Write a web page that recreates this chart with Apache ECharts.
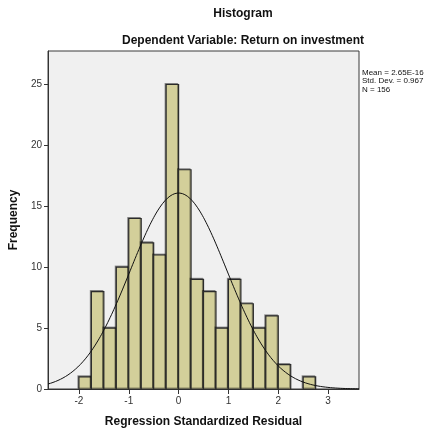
<!DOCTYPE html>
<html>
<head>
<meta charset="utf-8">
<script src="https://cdn.jsdelivr.net/npm/echarts@6/dist/echarts.min.js"></script>
<style>
  html, body { margin: 0; padding: 0; background: #ffffff; }
  #chart { width: 430px; height: 434px; }
</style>
</head>
<body>
<div id="chart"></div>
<script>
// Bin lower edges (width 0.25) and counts of standardized residuals
const binStarts = [-2.0, -1.75, -1.5, -1.25, -1.0, -0.75, -0.5, -0.25, 0.0, 0.25,
                   0.5, 0.75, 1.0, 1.25, 1.5, 1.75, 2.0, 2.25, 2.5];
const binWidth = 0.25;
const counts = [1, 8, 5, 10, 14, 12, 11, 25, 18, 9,
                8, 5, 9, 7, 5, 6, 2, 0, 1];

// Summary statistics shown beside the plot
const statMean = 2.65e-16;
const statSd = 0.967;
const statN = 156;
const statLines = ['Mean = 2.65E-16', 'Std. Dev. = 0.967', 'N = 156'];

const xTicks = [-2, -1, 0, 1, 2, 3];
const yTicks = [0, 5, 10, 15, 20, 25];
const xMin = -2.62, xMax = 3.62;
const yMax = 27.75;

// Normal density scaled to counts per bin
const curve = [];
const steps = 250;
for (let i = 0; i <= steps; i++) {
  const x = xMin + (xMax - xMin) * i / steps;
  const z = (x - statMean) / statSd;
  const y = statN * binWidth * Math.exp(-0.5 * z * z) / (statSd * Math.sqrt(2 * Math.PI));
  curve.push([x, y]);
}

const barData = binStarts.map((s, i) => [s, s + binWidth, counts[i]]).filter(d => d[2] > 0);

const chart = echarts.init(document.getElementById('chart'), null, { renderer: 'canvas' });
const fontFam = '"Liberation Sans", Arial, sans-serif';

chart.setOption({
  animation: false,
  backgroundColor: '#ffffff',
  title: [
    { text: 'Histogram', left: 238, top: 3, textAlign: 'center',
      textStyle: { fontFamily: fontFam, fontSize: 12, fontWeight: 'bold', color: '#111' } },
    { text: 'Dependent Variable: Return on investment', left: 238, top: 30, textAlign: 'center',
      textStyle: { fontFamily: fontFam, fontSize: 12, fontWeight: 'bold', color: '#111' } }
  ],
  grid: {
    left: 41, top: 51, right: 71, bottom: 45,
    show: true, backgroundColor: '#F0F0F0', borderColor: '#3a3a3a', borderWidth: 1
  },
  xAxis: {
    type: 'value', min: xMin, max: xMax,
    name: 'Regression Standardized Residual', nameLocation: 'middle', nameGap: 27,
    nameTextStyle: { fontFamily: fontFam, fontSize: 12, fontWeight: 'bold', color: '#111' },
    splitLine: { show: false },
    axisLine: { show: true, onZero: false, lineStyle: { color: '#333', width: 1 } },
    axisTick: { show: true, length: 5, customValues: xTicks, lineStyle: { color: '#333' } },
    axisLabel: { customValues: xTicks, margin: 7, fontFamily: fontFam, fontSize: 10, color: '#333' }
  },
  yAxis: {
    type: 'value', min: 0, max: yMax,
    name: 'Frequency', nameLocation: 'middle', nameGap: 24, nameRotate: 90,
    nameTextStyle: { fontFamily: fontFam, fontSize: 12, fontWeight: 'bold', color: '#111' },
    splitLine: { show: false },
    axisLine: { show: true, onZero: false, lineStyle: { color: '#333', width: 1 } },
    axisTick: { show: true, length: 4, customValues: yTicks, lineStyle: { color: '#333' } },
    axisLabel: { customValues: yTicks, margin: 6, fontFamily: fontFam, fontSize: 10, color: '#333' }
  },
  graphic: [{
    type: 'text', left: 362, top: 68,
    style: { text: statLines.join('\n'), fontFamily: fontFam, fontSize: 8, lineHeight: 8.6, fill: '#111' }
  }],
  series: [
    {
      type: 'custom',
      data: barData,
      encode: { x: [0, 1], y: 2 },
      renderItem: function (params, api) {
        const p0 = api.coord([api.value(0), api.value(2)]);
        const p1 = api.coord([api.value(1), 0]);
        return {
          type: 'rect',
          shape: { x: p0[0], y: p0[1], width: p1[0] - p0[0], height: p1[1] - p0[1] },
          style: { fill: '#D3CF9A', stroke: '#2b2b2b', lineWidth: 1.2,
                   shadowColor: 'rgba(0,0,0,0.35)', shadowOffsetX: -1, shadowOffsetY: -1, shadowBlur: 0 }
        };
      },
      z: 2
    },
    {
      type: 'line',
      data: curve,
      showSymbol: false,
      smooth: false,
      lineStyle: { color: '#111', width: 1 },
      z: 3
    }
  ]
});
</script>
</body>
</html>
